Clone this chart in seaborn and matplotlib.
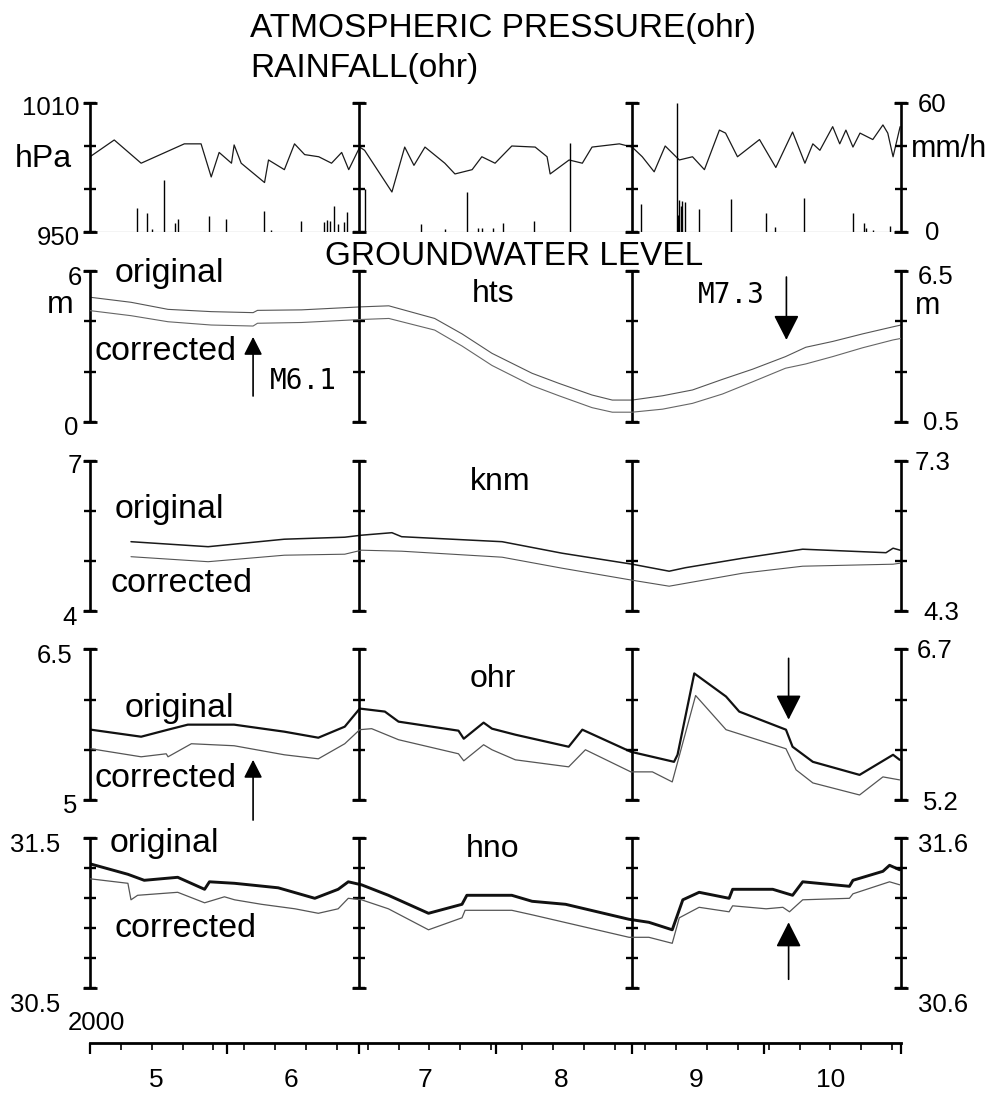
import numpy as np
import pandas as pd
import matplotlib
matplotlib.use("Agg")
import matplotlib.pyplot as plt
import matplotlib.dates as mdates
import matplotlib.transforms as mtrans
import seaborn as sns

# ---------------- data (days since 2000-05-01) ----------------
START = pd.Timestamp("2000-05-01")
END = pd.Timestamp("2000-11-01")
BAR_DAYS = [0, 61, 123, 184]          # panel frame bars (May 1, Jul 1, Sep 1, Nov 1)

press_days = [0, 5.5, 11.6, 21.4, 25.2, 27.5, 29.3, 32.1, 32.7, 34.3, 39.6, 40.5, 44.1, 46.4, 48.7,
              51.9, 54.8, 57.1, 58.7, 61.2, 62.3, 68.5, 71.4, 73.5, 76, 80.5, 82.8, 86.7, 88.9,
              91.9, 95.7, 101, 103.7, 104.4, 108.7, 111.7, 113.9, 120.1, 123, 125.3, 128, 130.5,
              133.7, 136.7, 139.4, 142.8, 144.2, 146.9, 151.9, 155.6, 159.4, 162.2, 164, 165.6,
              168.5, 170.1, 171.5, 173.1, 174.7, 177.6, 179.9, 181, 182.2, 183.8]
press_hpa = [985, 992.8, 982, 991, 991, 975.6, 987, 982, 990.5, 982, 973, 983.5, 979, 991, 986,
             985, 982, 987, 979, 989.5, 988, 968.6, 989.5, 981, 989.5, 982, 977, 979, 985,
             982, 990, 989.5, 985, 977, 983.5, 982, 989.5, 991, 989.5, 985, 978, 990,
             983.5, 985, 979, 997.4, 996, 985, 993, 980, 996.5, 982, 991, 988,
             999, 991, 997.4, 989.5, 996, 993, 999.8, 996, 985, 999]

rain_days = [10.6, 13, 14, 16.9, 19.2, 19.9, 27.1, 30.9, 39.4, 41, 47.8, 53.2, 53.7, 54.4, 55.4,
             56.3, 57.7, 58.4, 62.5, 75, 80.5, 85.5, 88, 89, 91.5, 93.8, 100.7, 109, 124.9,
             133.1, 133.4, 133.6, 134, 134.3, 134.9, 138.2, 145.5, 153.4, 155.5, 162, 173,
             175.7, 176, 177.6, 181.4]
rain_mmh = [11, 8.7, 1.5, 24.2, 4.3, 6, 7.4, 6, 9.8, 1, 5.1, 4.6, 5.6, 5.1, 12.1,
            3.7, 4.6, 9.2, 20, 3.6, 1.5, 18.7, 2, 2, 2, 4.3, 5.1, 41.2, 13,
            59.9, 8, 14.9, 12, 14.5, 14.1, 10.6, 15.2, 8.7, 2.5, 16, 8.7,
            4.3, 2, 1, 2.8]

hts_orig_days = [0, 9.3, 17.7, 27.5, 37.0, 38.0, 48, 61.6, 67.8, 78.2, 84.4, 91.2, 100.3, 106.4,
                 113.9, 118.5, 123, 129.9, 136.7, 143.5, 150.3, 157.8, 162.4, 168.5, 175.3, 182.2, 184]
hts_orig_m = [4.95, 4.75, 4.47, 4.38, 4.34, 4.43, 4.45, 4.57, 4.61, 4.11, 3.5, 2.73, 1.94, 1.54,
              1.08, 0.88, 0.88, 1.05, 1.28, 1.7, 2.1, 2.6, 2.97, 3.2, 3.5, 3.78, 3.85]
hts_corr_days = hts_orig_days
hts_corr_m = [4.92, 4.72, 4.48, 4.35, 4.31, 4.42, 4.45, 4.57, 4.61, 4.15, 3.52, 2.75, 1.95, 1.55,
              1.08, 0.90, 0.90, 1.02, 1.25, 1.62, 2.1, 2.64, 2.81, 3.1, 3.45, 3.76, 3.82]

knm_orig_days = [9.3, 26.8, 44.1, 57.8, 61.6, 68.5, 70.7, 82.1, 93.5, 107.1, 123, 131.4, 135.1,
                 148.1, 161.7, 180.6, 182.2, 183.8]
knm_orig_m = [5.38, 5.28, 5.43, 5.47, 5.51, 5.56, 5.48, 5.43, 5.38, 5.15, 4.93, 4.79, 4.86,
              5.05, 5.23, 5.16, 5.25, 5.21]
knm_corr_days = [9.3, 26.8, 44.1, 57.8, 61.6, 70.7, 82.1, 93.5, 107.1, 123, 131.4, 148.1, 161.7,
                 182.2, 183.8]
knm_corr_m = [5.38, 5.28, 5.41, 5.43, 5.51, 5.49, 5.43, 5.37, 5.15, 4.91, 4.79, 5.05, 5.19,
              5.23, 5.25]

ohr_orig_days = [0.2, 11.6, 17.7, 22.2, 32.7, 44.1, 51.8, 57.8, 61.2, 66.9, 70, 83.6, 84.8, 89.3,
                 91.2, 96.5, 108.6, 111.7, 122.7, 132.5, 133.3, 137.1, 144.3, 147.3, 157.9, 159.4,
                 164, 174.6, 182.2, 183.7]
ohr_orig_m = [5.70, 5.63, 5.70, 5.75, 5.75, 5.68, 5.62, 5.73, 5.91, 5.88, 5.78, 5.69, 5.61, 5.77,
              5.71, 5.65, 5.53, 5.70, 5.48, 5.38, 5.45, 6.26, 6.03, 5.88, 5.70, 5.53,
              5.38, 5.25, 5.45, 5.40]
ohr_corr_days = [0.2, 11.6, 17.3, 17.7, 23, 32.7, 44.1, 51.8, 57.8, 61.2, 63.9, 70, 83.6, 84.8,
                 89.3, 91.2, 96.5, 108.6, 112.4, 122.7, 127.6, 132.1, 137.4, 144.3, 157.9, 160.2,
                 164, 174.6, 179.9, 183.7]
ohr_corr_m = [5.71, 5.63, 5.66, 5.63, 5.76, 5.74, 5.65, 5.61, 5.76, 5.90, 5.91, 5.80, 5.66, 5.59,
              5.75, 5.70, 5.60, 5.53, 5.70, 5.48, 5.48, 5.38, 6.24, 5.90, 5.71, 5.50,
              5.37, 5.25, 5.43, 5.40]

hno_orig_days = [0, 8.6, 12.3, 19.9, 26, 27.1, 32.8, 42.7, 51, 56.3, 58.6, 61.6, 67.7, 76.8, 84.4,
                 85.5, 95.7, 100.3, 107.9, 122.3, 126.8, 132.1, 134.5, 138.2, 145, 145.8, 154.9,
                 159.4, 161.7, 172.3, 173.1, 179.9, 181.4, 183.7]
hno_orig_m = [31.33, 31.26, 31.22, 31.24, 31.16, 31.21, 31.20, 31.17, 31.10, 31.16, 31.21, 31.19,
              31.12, 31.0, 31.06, 31.12, 31.12, 31.08, 31.06, 30.96, 30.94, 30.89, 31.09, 31.14,
              31.10, 31.16, 31.16, 31.12, 31.21, 31.18, 31.22, 31.28, 31.32, 31.29]
hno_corr_days = [0, 8.6, 9.3, 10.8, 19.9, 26, 30.5, 32.8, 38.9, 46.5, 51.8, 56.3, 58.6, 61.6, 67.7,
                 76.8, 84.4, 85.1, 95.7, 100.3, 122.3, 126.8, 132.1, 133.7, 138.2, 145, 145.8,
                 153.4, 157.2, 158.7, 161.7, 172.3, 173.1, 181.4, 183.7]
hno_corr_m = [31.33, 31.30, 31.19, 31.22, 31.24, 31.17, 31.21, 31.19, 31.16, 31.13, 31.10, 31.13,
              31.20, 31.19, 31.13, 30.99, 31.07, 31.12, 31.12, 31.09, 30.94, 30.94, 30.90, 31.07,
              31.14, 31.11, 31.15, 31.13, 31.14, 31.11, 31.19, 31.20, 31.23, 31.31, 31.29]

month_labels = ["5", "6", "7", "8", "9", "10"]
month_mid_days = [15, 45.5, 76, 107, 137.5, 168]

# ---------------- style ----------------
sns.set_theme(style="white")
plt.rcParams["font.family"] = ["Liberation Sans", "DejaVu Sans"]

W, H = 990, 1093
fig = plt.figure(figsize=(W / 100, H / 100), dpi=100)


def rect(top, bottom, left=90, right=901):
    return [left / W, 1 - bottom / H, (right - left) / W, (bottom - top) / H]


def to_dates(days):
    return START + pd.to_timedelta(np.asarray(days, float), unit="D")


def ftext(x, y, s, size, ha="left", va="baseline", **kw):
    fig.text(x / W, 1 - y / H, s, fontsize=size, ha=ha, va=va, color="black", **kw)


def clean(a):
    for s in a.spines.values():
        s.set_visible(False)
    a.set_xlim(START, END)
    a.set_xticks([])
    a.set_yticks([])
    a.set_xlabel("")
    a.set_ylabel("")
    a.patch.set_visible(False)
    a.grid(False)


def panel(top, bottom, ylim_l, ylim_r, nint):
    ax = fig.add_axes(rect(top, bottom))
    ax2 = ax.twinx()
    ax.set_ylim(*ylim_l)
    ax2.set_ylim(*ylim_r)
    yt = np.linspace(ylim_l[0], ylim_l[1], nint + 1)
    bars = to_dates(BAR_DAYS)
    ax.vlines(bars, ylim_l[0], ylim_l[1], color="black", lw=1.9, clip_on=False, zorder=6)
    for b in bars:
        ax.plot([b] * len(yt), yt, ls="none", marker="_", ms=8, mew=1.7,
                color="black", clip_on=False, zorder=6)
        ax.plot([b, b], [yt[0], yt[-1]], ls="none", marker="_", ms=10, mew=2.0,
                color="black", clip_on=False, zorder=6)
    return ax, ax2


# ---------------- pressure / rain ----------------
axp, axr = panel(103, 232, (950, 1010), (0, 60), 3)
sns.lineplot(x=to_dates(press_days), y=press_hpa, ax=axp, color="#1a1a1a", lw=0.9, legend=False)
axr.vlines(to_dates(rain_days), 0, rain_mmh, color="black", lw=1.0)
axr.axhline(0, color="#444444", lw=0.8)
axp.set_ylim(950, 1010)
axr.set_ylim(0, 60)
clean(axp)
clean(axr)

# ---------------- groundwater panels ----------------
specs = [
    (270.7, 422.3, (0, 6), (0.5, 6.5), 3, hts_orig_days, hts_orig_m, hts_corr_days, hts_corr_m,
     dict(color="#555555", lw=0.8), dict(color="#666666", lw=0.8)),
    (460.7, 610.7, (4, 7), (4.3, 7.3), 3, knm_orig_days, knm_orig_m, knm_corr_days, knm_corr_m,
     dict(color="#1a1a1a", lw=1.1), dict(color="#555555", lw=0.8)),
    (649.3, 800.0, (5, 6.5), (5.2, 6.7), 3, ohr_orig_days, ohr_orig_m, ohr_corr_days, ohr_corr_m,
     dict(color="#111111", lw=1.6), dict(color="#555555", lw=0.9)),
    (838.3, 988.3, (30.5, 31.5), (30.6, 31.6), 5, hno_orig_days, hno_orig_m, hno_corr_days,
     hno_corr_m, dict(color="#111111", lw=2.1), dict(color="#555555", lw=0.9)),
]
axes = []
for top, bot, yl, yr, n, od, ov, cd, cv, okw, ckw in specs:
    a1, a2 = panel(top, bot, yl, yr, n)
    sns.lineplot(x=to_dates(od), y=ov, ax=a1, legend=False, **okw)
    sns.lineplot(x=to_dates(cd), y=cv, ax=a2, legend=False, **ckw)
    a1.set_ylim(*yl)
    a2.set_ylim(*yr)
    clean(a1)
    clean(a2)
    axes.append(a1)
ax_hts, ax_knm, ax_ohr, ax_hno = axes

# ---------------- arrows ----------------
def arrow(ax, day, head, tail, scale=28):
    d = to_dates([day])[0]
    ax.annotate("", xy=(d, head), xytext=(d, tail),
                arrowprops=dict(arrowstyle="-|>,head_length=0.55,head_width=0.28",
                                color="black", lw=1.2, mutation_scale=scale,
                                shrinkA=0, shrinkB=0),
                annotation_clip=False)

arrow(ax_hts, 37, 3.38, 1.04, scale=20)
arrow(ax_hts, 158, 3.26, 5.75)
arrow(ax_ohr, 37, 5.40, 4.80, scale=20)
arrow(ax_ohr, 158.5, 5.80, 6.41)
arrow(ax_hno, 158.5, 30.94, 30.56)

# ---------------- bottom date axis ----------------
axb = fig.add_axes(rect(1033, 1043))
for side in ("top", "left", "right"):
    axb.spines[side].set_visible(False)
axb.spines["bottom"].set_linewidth(2.0)
axb.spines["bottom"].set_color("black")
axb.set_xlim(START, END)
axb.set_yticks([])
axb.patch.set_visible(False)
axb.xaxis.set_major_locator(mdates.MonthLocator())
axb.xaxis.set_minor_locator(mdates.WeekdayLocator(byweekday=mdates.MO))
axb.tick_params(axis="x", which="major", direction="out", length=8, width=1.6,
                color="black", labelbottom=False, bottom=True)
axb.tick_params(axis="x", which="minor", direction="out", length=5, width=1.2,
                color="black", bottom=True)
tb = mtrans.blended_transform_factory(axb.transData, fig.transFigure)
for dmid, lbl in zip(to_dates(month_mid_days), month_labels):
    axb.text(dmid, 1 - 1087 / H, lbl, transform=tb, ha="center", va="baseline",
             fontsize=19, color="black")

# ---------------- texts ----------------
ftext(250, 37, "ATMOSPHERIC PRESSURE(ohr)", 24)
ftext(250, 77, "RAINFALL(ohr)", 24)
ftext(325, 265, "GROUNDWATER LEVEL", 24)

lab = 18.5
# left axis labels
ftext(80, 115, "1010", lab, ha="right")
ftext(15, 167, "hPa", 23)
ftext(80, 245, "950", lab, ha="right")
ftext(82, 285, "6", lab, ha="right")
ftext(47, 313, "m", 23)
ftext(78, 435, "0", lab, ha="right")
ftext(82, 473, "7", lab, ha="right")
ftext(77, 625, "4", lab, ha="right")
ftext(72, 663, "6.5", lab, ha="right")
ftext(77, 813, "5", lab, ha="right")
ftext(60, 852, "31.5", lab, ha="right")
ftext(60, 1012, "30.5", lab, ha="right")
ftext(96, 1030, "2000", lab, ha="center")
# right axis labels
ftext(918, 112, "60", lab)
ftext(911, 157, "mm/h", 22)
ftext(925, 240, "0", lab)
ftext(918, 284, "6.5", lab)
ftext(915, 314, "m", 22)
ftext(923, 430, "0.5", lab)
ftext(915, 470, "7.3", lab)
ftext(923, 620, "4.3", lab)
ftext(917, 658, "6.7", lab)
ftext(923, 810, "5.2", lab)
ftext(918, 852, "31.6", lab)
ftext(918, 1012, "30.6", lab)

# in-panel labels
big = 24.5
ftext(115, 282, "original", big)
ftext(95, 360, "corrected", big)
ftext(472, 302, "hts", 23)
ftext(270, 389, "M6.1", 20, family="DejaVu Sans Mono")
ftext(698, 303, "M7.3", 20, family="DejaVu Sans Mono")

ftext(115, 518, "original", big)
ftext(110, 592, "corrected", big)
ftext(470, 490, "knm", 23)

ftext(125, 717, "original", big)
ftext(95, 787, "corrected", big)
ftext(470, 687, "ohr", 23)

ftext(110, 852, "original", big)
ftext(115, 937, "corrected", big)
ftext(466, 857, "hno", 23)

fig.savefig("out.png", dpi=100, facecolor="white")
